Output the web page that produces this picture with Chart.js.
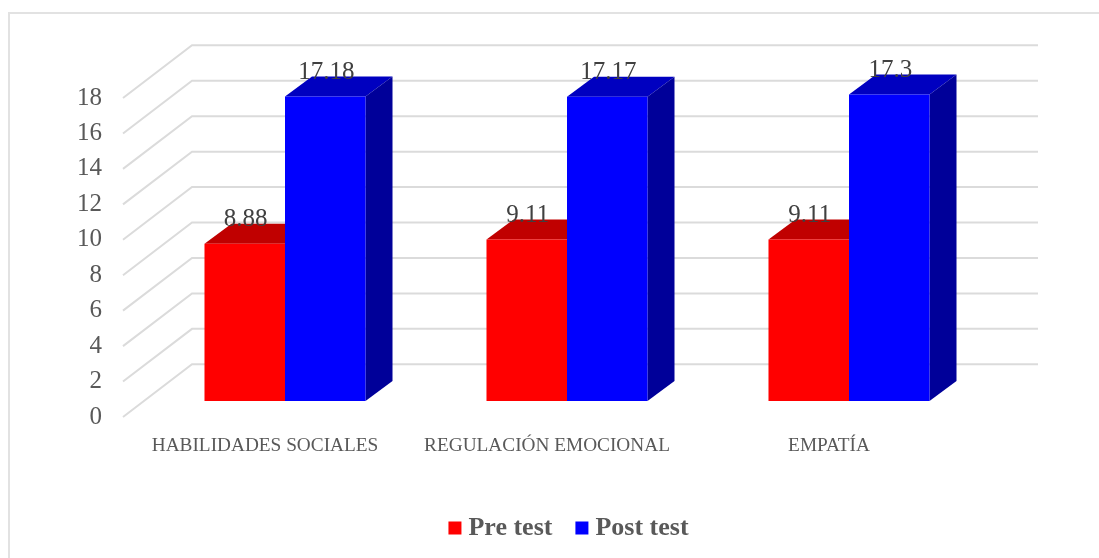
<!DOCTYPE html>
<html><head><meta charset="utf-8">
<style>html,body{margin:0;padding:0;background:#fff}#w{position:relative;width:1099px;height:558px}</style>
<script src="https://cdn.jsdelivr.net/npm/chart.js@4"></script></head>
<body><div id="w"><canvas id="c" width="1099" height="558"></canvas></div>
<script>
const categories = ["HABILIDADES SOCIALES", "REGULACIÓN EMOCIONAL", "EMPATÍA"];
const preTest = [8.88, 9.11, 9.11];
const postTest = [17.18, 17.17, 17.3];
const preLabels = ["8.88", "9.11", "9.11"];
const postLabels = ["17.18", "17.17", "17.3"];
const FONT = '"Liberation Serif", serif';
const TXT = '#595959';
const GRID = '#DBDBDB';
const DX = 27, DY = 20;
const faces = [{top:'#C00000', side:'#990000'}, {top:'#0000C0', side:'#000099'}];

const threeD = {
  id: 'threeD',
  afterLayout(chart) {
    chart.legend.left += 4.5;
    chart.legend.right += 4.5;
  },
  beforeDraw(chart) {
    const c = chart.ctx;
    c.save(); c.strokeStyle = '#E2E2E2'; c.lineWidth = 2;
    c.beginPath();
    c.moveTo(9, 558); c.lineTo(9, 13); c.lineTo(1099, 13);
    c.stroke();
    c.restore();
  },
  beforeDatasetsDraw(chart) {
    const c = chart.ctx, y = chart.scales.y, a = chart.chartArea;
    c.save();
    c.strokeStyle = GRID; c.lineWidth = 2;
    y.ticks.forEach(t => {
      const p = y.getPixelForValue(t.value);
      c.beginPath();
      c.moveTo(a.left - 21, p + 16);
      c.lineTo(a.left + 48, p - 36.7);
      c.lineTo(a.right + 48, p - 36.7);
      c.stroke();
    });
    chart.data.datasets.forEach((ds, i) => {
      chart.getDatasetMeta(i).data.forEach(b => {
        const l = b.x - b.width / 2, r = b.x + b.width / 2, t = b.y, bot = b.base;
        c.fillStyle = faces[i].top;
        c.beginPath(); c.moveTo(l, t); c.lineTo(l + DX, t - DY); c.lineTo(r + DX, t - DY); c.lineTo(r, t); c.closePath(); c.fill();
        c.fillStyle = faces[i].side;
        c.beginPath(); c.moveTo(r, t); c.lineTo(r + DX, t - DY); c.lineTo(r + DX, bot - DY); c.lineTo(r, bot); c.closePath(); c.fill();
      });
    });
    c.restore();
  },
  afterDatasetsDraw(chart) {
    const c = chart.ctx;
    const lab = [preLabels, postLabels];
    c.save();
    c.fillStyle = '#404040'; c.font = '25px ' + FONT; c.textAlign = 'center'; c.textBaseline = 'middle';
    chart.data.datasets.forEach((ds, i) => {
      chart.getDatasetMeta(i).data.forEach((b, j) => {
        c.fillText(lab[i][j], b.x + 1, b.y - 24);
      });
    });
    c.restore();
  }
};

new Chart(document.getElementById('c'), {
  type: 'bar',
  data: {
    labels: categories,
    datasets: [
      {label: 'Pre test', data: preTest, backgroundColor: '#FF0000'},
      {label: 'Post test', data: postTest, backgroundColor: '#0000FF'}
    ]
  },
  plugins: [threeD],
  options: {
    responsive: false,
    animation: false,
    layout: {padding: {left: 0, right: 109, top: 82, bottom: 7}},
    categoryPercentage: 0.571,
    barPercentage: 1,
    scales: {
      x: {
        grid: {display: false}, border: {display: false},
        ticks: {color: TXT, font: {family: FONT, size: 19.3}, labelOffset: -20, padding: 25, maxRotation: 0, autoSkip: false},
        afterFit(s) { s.height = 85; }
      },
      y: {
        min: 0, max: 18,
        grid: {display: false}, border: {display: false},
        ticks: {stepSize: 2, color: TXT, font: {family: FONT, size: 25}, labelOffset: 16, padding: 34},
        afterFit(s) { s.width = 144; }
      }
    },
    plugins: {
      tooltip: {enabled: false},
      legend: {
        position: 'bottom',
        fullSize: false,
        labels: {
          boxWidth: 1, boxHeight: 1, color: TXT, padding: 29,
          font: {family: FONT, size: 26, weight: 'bold'},
          generateLabels(chart) {
            return Chart.defaults.plugins.legend.labels.generateLabels(chart).map(it => {
              it.strokeStyle = it.fillStyle;
              it.lineWidth = 12;
              return it;
            });
          }
        }
      }
    }
  }
});
</script></body></html>
